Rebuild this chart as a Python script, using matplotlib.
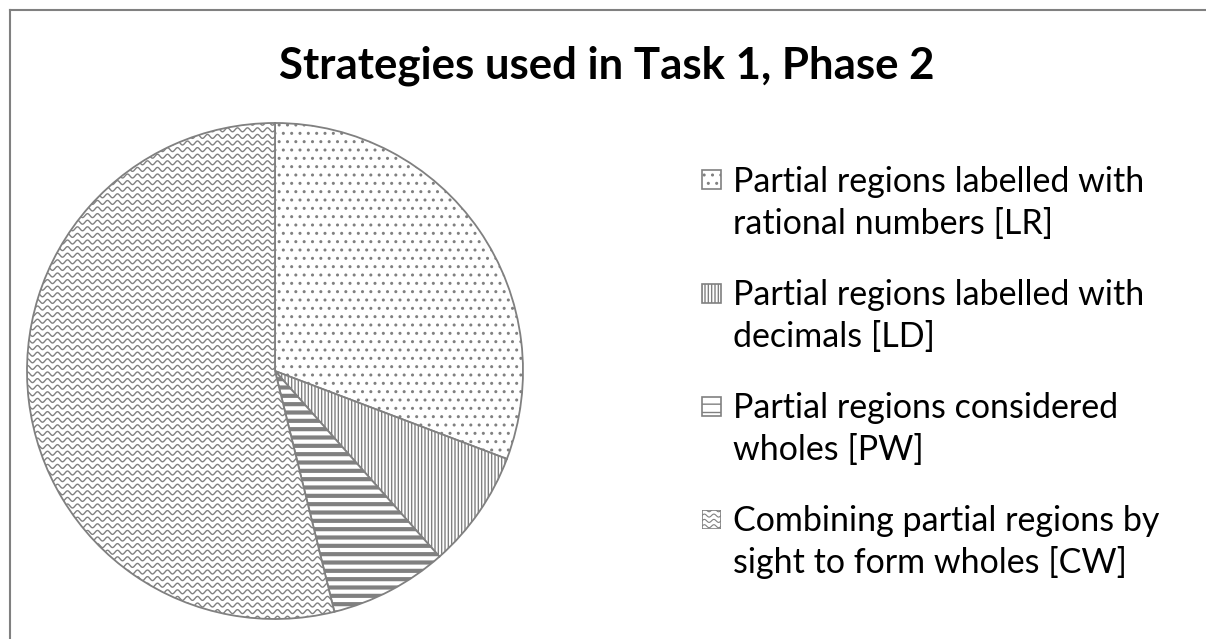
import numpy as np
import matplotlib
matplotlib.use("Agg")
import matplotlib.pyplot as plt
from matplotlib.patches import Rectangle
from matplotlib.lines import Line2D

# data (counts)
labels = [["Partial regions labelled with", "rational numbers [LR]"],
          ["Partial regions labelled with", "decimals [LD]"],
          ["Partial regions considered", "wholes [PW]"],
          ["Combining partial regions by", "sight to form wholes [CW]"]]
values = [12, 3, 3, 21]
hatches = ["..", "|||||", "--", ""]

W, H = 1206, 639
gray = "#808080"
plt.rcParams["font.family"] = ["Lato", "DejaVu Sans"]
plt.rcParams["hatch.color"] = gray

fig = plt.figure(figsize=(W / 100, H / 100), dpi=100)


def fx(x):
    return x / W


def fy(y):
    return 1 - y / H


# outer frame (only left and top visible)
fig.add_artist(Line2D([fx(10), 1], [fy(10), fy(10)], color=gray, lw=1.5))
fig.add_artist(Line2D([fx(10), fx(10)], [fy(10), 0], color=gray, lw=1.5))

fig.text(fx(607), fy(78), "Strategies used in Task 1, Phase 2",
         ha="center", va="baseline", fontsize=31.5, fontweight="bold")

# pie
cx, cy, r = 275, 371, 248
ax = fig.add_axes([fx(cx - r), fy(cy + r), 2 * r / W, 2 * r / H])
wedges, _ = ax.pie(values, startangle=90, counterclock=False,
                   colors=["white"] * 4, hatch=hatches,
                   wedgeprops=dict(edgecolor=gray, linewidth=1.3))
ax.set_xlim(-1, 1)
ax.set_ylim(-1, 1)
ax.axis("off")
for w in wedges:
    if hasattr(w, "set_hatch_linewidth"):
        w.set_hatch_linewidth(1.0)
if hasattr(wedges[2], "set_hatch_linewidth"):
    wedges[2].set_hatch_linewidth(3.0)


def waves(axis, clip, x0, x1, y0, y1, step, period, amp, lw):
    xs = np.linspace(x0, x1, int((x1 - x0) / period * 12) + 2)
    for yy in np.arange(y0, y1, step):
        ln, = axis.plot(xs, yy + amp * np.sin(2 * np.pi * xs / period),
                        color=gray, lw=lw, zorder=3)
        ln.set_clip_path(clip)


px = 1 / r
waves(ax, wedges[3], -1.05, 1.05, -1.05, 1.05, 6.6 * px, 10 * px, 2 * px, 1.0)

# legend
tx, base0, step, lh = 733, 192, 113, 42
for i, (lines, h) in enumerate(zip(labels, hatches)):
    b = base0 + i * step
    for j, t in enumerate(lines):
        fig.text(fx(tx), fy(b + j * lh), t, ha="left", va="baseline", fontsize=24.5)
    sz = 19
    box = (fx(702), fy(b - 12 + sz / 2), sz / W, sz / H)
    if h == "":
        lax = fig.add_axes(box)
        lax.set_xlim(0, 1)
        lax.set_ylim(0, 1)
        lax.axis("off")
        clipr = Rectangle((0, 0), 1, 1, transform=lax.transData,
                          facecolor="white", edgecolor=gray, lw=1.2)
        lax.add_patch(clipr)
        waves(lax, clipr, 0, 1, 0.12, 1, 0.28, 0.5, 0.08, 0.8)
    else:
        fig.add_artist(Rectangle(box[:2], box[2], box[3],
                                 transform=fig.transFigure, facecolor="white",
                                 edgecolor=gray, lw=1.2, hatch=h))

fig.savefig("out.png", dpi=100)
